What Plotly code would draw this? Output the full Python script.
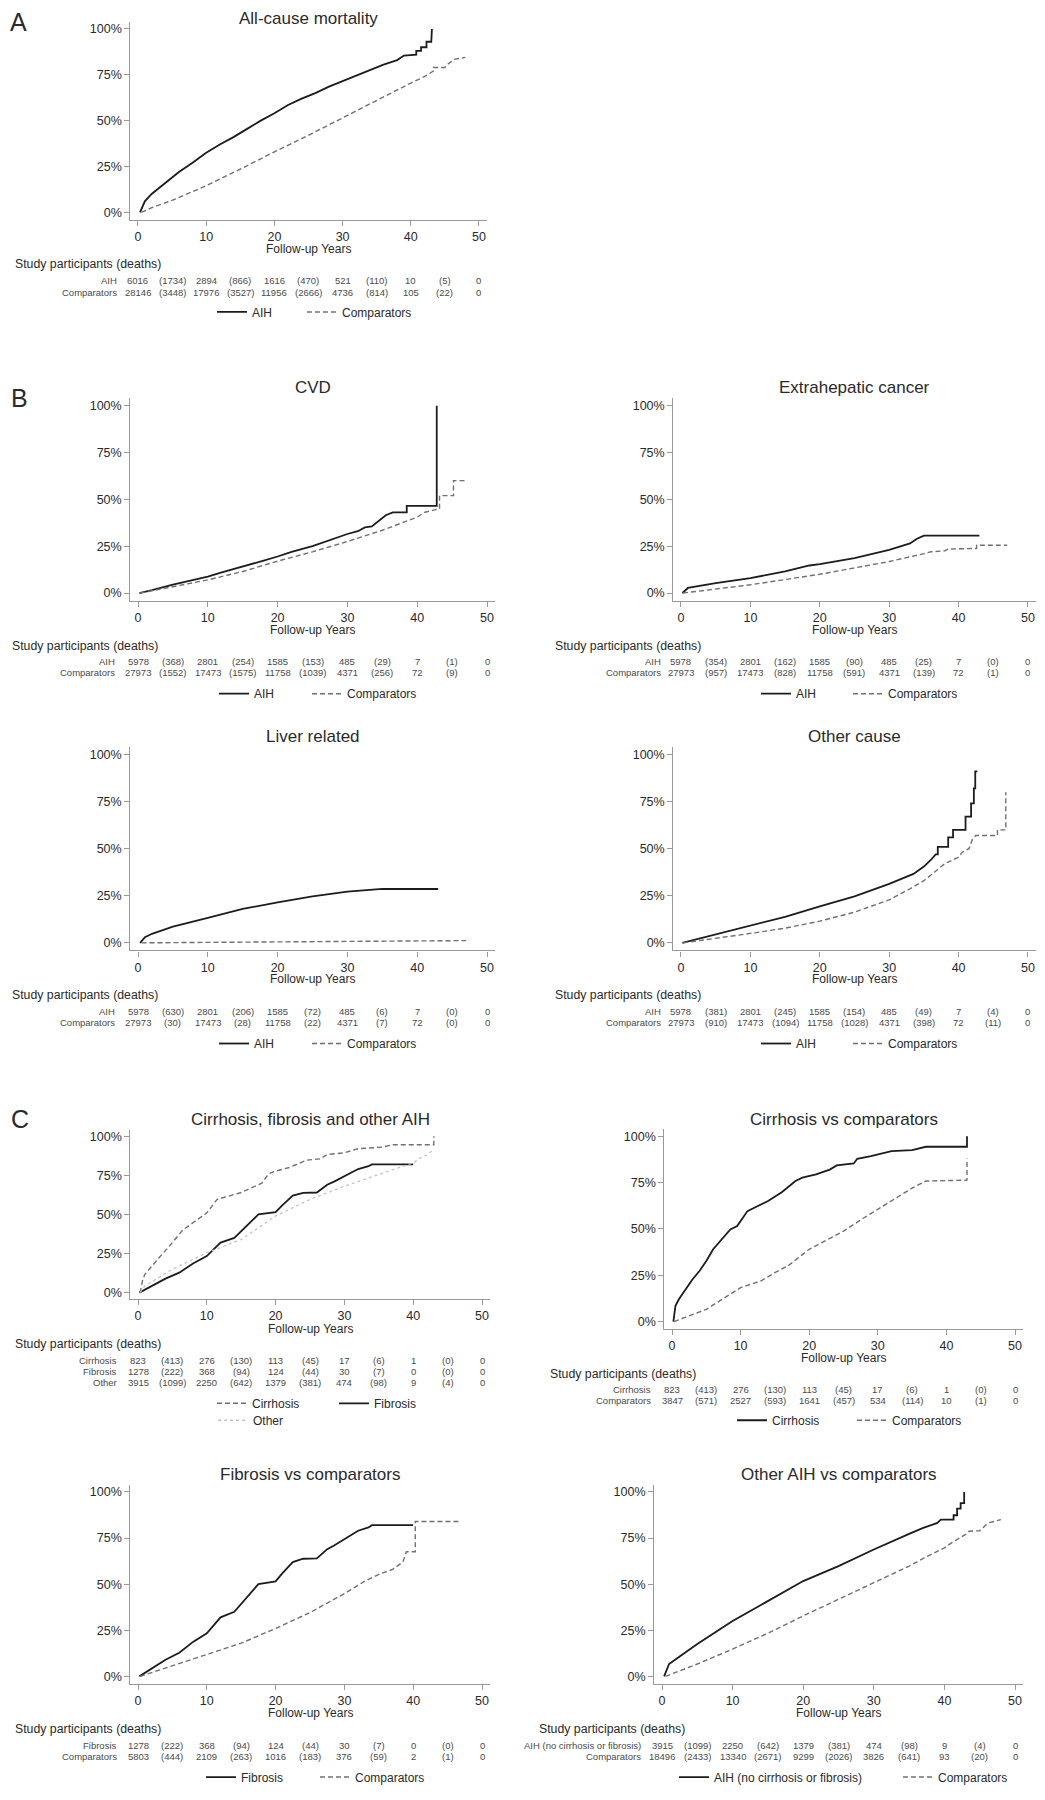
import plotly.graph_objects as go

# Page body has an 8px margin; the figure is sized to fit inside the window
PAGE_W, PAGE_H = 1045, 1800
OFF = 8
W, H = PAGE_W - 2 * OFF, PAGE_H - 2 * OFF
ANN_DY = 2  # annotation boxes sit slightly high; nudge down

# ---------------- DATA (cumulative mortality, %) ----------------
# A: All-cause mortality
A_aih_t = [0.3, 0.5, 1, 2, 3, 4, 5, 6, 8, 10, 12, 14, 16, 18, 20, 22, 24, 26, 28, 30, 32, 34, 36, 38, 39, 40.8, 40.8, 41.5, 41.5, 42.3, 42.3, 43.0, 43.0, 43.1]
A_aih_v = [0, 2, 6, 10, 13, 16.5, 19.5, 22, 27, 32.5, 37, 41, 45.5, 50, 54, 58.5, 62, 65, 68.5, 71.5, 74.5, 77.5, 80.5, 83, 85.5, 86, 88, 88, 90, 90, 93, 93, 97, 100]
A_cmp_t = [0.5, 2, 5, 10, 15, 20, 25, 30, 35, 37, 40, 42, 43.3, 43.3, 45, 45.5, 46.5, 48]
A_cmp_v = [0, 2.5, 6.5, 14.5, 23.5, 33, 42, 51.5, 61, 65, 70.5, 74, 77, 79, 79, 81, 83.5, 84.5]

# B: CVD
CVD_aih_t = [0.2, 2, 5, 8, 10, 12, 15, 18, 20, 22, 25, 28, 30, 31.5, 32.5, 33.5, 34.5, 35.5, 36.5, 38.5, 38.5, 42.8, 42.8]
CVD_aih_v = [0, 1.5, 4.5, 7, 8.8, 11, 14, 17.3, 19.5, 22, 25, 29, 31.5, 33, 35, 35.5, 38.5, 41.5, 43, 43, 46.5, 46.5, 100]
CVD_cmp_t = [0.3, 5, 10, 15, 20, 25, 30, 35, 38, 40, 41, 43.2, 43.2, 45.2, 45.2, 47]
CVD_cmp_v = [0, 3.5, 7, 11.5, 17, 22, 27.5, 33.5, 37.5, 40.5, 43, 45, 52, 52, 60, 60]

# B: Extrahepatic cancer
EXT_aih_t = [0.2, 1, 5, 10, 15, 18.5, 20, 25, 30, 33, 34, 35, 43]
EXT_aih_v = [0, 2.7, 5.3, 8, 11.5, 14.7, 15.4, 18.6, 23, 26.5, 29, 30.6, 30.6]
EXT_cmp_t = [0.3, 10, 20, 30, 35, 36, 38, 38.5, 42.6, 42.6, 47]
EXT_cmp_v = [0, 4.4, 10, 16.8, 21, 22, 22.5, 23.5, 23.8, 25.5, 25.5]

# B: Liver related
LIV_aih_t = [0.3, 1, 2, 5, 10, 15, 20, 25, 30, 35, 43]
LIV_aih_v = [0, 3, 4.8, 8.6, 13.2, 18, 21.5, 24.7, 27.2, 28.6, 28.6]
LIV_cmp_t = [0.5, 10, 20, 30, 40, 47]
LIV_cmp_v = [0, 0.3, 0.5, 0.8, 1.1, 1.2]

# B: Other cause
OTH_aih_t = [0.2, 5, 10, 15, 20, 25, 30, 33.5, 35, 36, 36.7, 37, 37, 38.5, 38.5, 39.2, 39.2, 41, 41, 41.8, 41.8, 42.2, 42.2, 42.4, 42.4, 42.7]
OTH_aih_v = [0, 4.5, 9, 13.8, 19.4, 24.7, 31.3, 36.6, 40.5, 44, 47, 47, 51, 51, 56, 56, 60, 60, 67, 67, 74, 74, 82, 82, 91, 91]
OTH_cmp_t = [0.3, 5, 10, 15, 20, 25, 30, 33, 35, 36.5, 38, 40, 40.5, 41.5, 42, 42.5, 45.6, 45.6, 46.8, 46.8]
OTH_cmp_v = [0, 2.3, 5, 7.8, 11.5, 16.3, 22.8, 28.7, 33, 37.5, 42, 45.5, 48, 50, 55, 57, 57, 60, 60, 80]

# C: Cirrhosis / fibrosis / other AIH
CIR_t = [0.3, 0.7, 1, 2, 3, 5, 6.5, 8, 10, 11.5, 15, 18, 19, 20, 22, 24.5, 26.5, 27.5, 30, 32, 35.5, 37, 43, 43]
CIR_v = [0, 8.5, 11.7, 17, 22, 32, 40, 44.7, 51, 59.6, 64, 70, 76, 77.7, 80, 84.7, 85.5, 88.3, 89.4, 92, 93, 94.5, 94.5, 100]
FIB_t = [0.2, 2, 4, 6, 8, 10, 12, 14, 16, 17.5, 20, 21, 22.5, 24, 26, 27.5, 28.5, 30, 31, 32, 33.5, 34, 40]
FIB_v = [0, 4.3, 9, 12.8, 18.7, 23.4, 32, 35, 43.6, 50, 51.5, 56, 62, 63.8, 64, 69, 71, 74.5, 77, 79, 80.8, 82, 82]
OAIH_C_t = [0.3, 1, 5, 10, 15, 20, 25, 30, 35, 40, 41, 42, 43]
OAIH_C_v = [0, 4.3, 15, 25.5, 34, 49, 59.6, 68, 75.5, 83, 86, 88, 91.5]

# C: Cirrhosis vs comparators
CIRV_t = [0.2, 0.5, 1, 2, 3, 4, 5, 6, 7, 8.5, 9.5, 11, 12, 14, 16, 18, 19, 21, 23, 24, 26.5, 27, 29, 32, 35, 37, 43, 43]
CIRV_v = [0, 8.4, 12, 17.4, 22.8, 27.3, 32.7, 39, 43.4, 49.7, 51.5, 59.6, 61.4, 65, 69.8, 75.8, 77.6, 79.4, 82, 84.2, 85.3, 87.8, 89.2, 91.9, 92.5, 94.3, 94.3, 100]
CIRC_t = [0.3, 5, 10, 13, 15, 17, 20, 25, 28, 30, 33, 35, 37, 43, 43]
CIRC_v = [0, 6.6, 18.3, 22, 26.4, 30.3, 39, 48.8, 56, 60.5, 67.7, 72, 75.8, 76.3, 88]

# C: Fibrosis vs comparators
FIBC_t = [0.3, 5, 10, 15, 20, 25, 30, 33, 35, 37, 38.5, 39, 40.3, 40.3, 47]
FIBC_v = [0, 5.8, 11.7, 18, 26, 34.6, 44.9, 51.7, 55.3, 58, 62, 67.6, 67.6, 84, 84]

# C: Other AIH vs comparators
OAV_t = [0.3, 1, 2, 5, 10, 15, 20, 25, 30, 35, 37, 39, 39.5, 41.3, 41.3, 41.8, 41.8, 42.3, 42.3, 42.8, 42.8]
OAV_v = [0, 6.7, 9.4, 17.5, 30, 41, 51.7, 59.8, 68.8, 77.3, 80.5, 83.2, 85, 85, 87.4, 87.4, 91, 91, 94, 94, 100]
OAC_t = [0.5, 2, 5, 10, 15, 20, 25, 30, 35, 37, 40, 41, 43, 43.5, 45, 46, 46.5, 48]
OAC_v = [0, 2.2, 6.7, 14.8, 23.4, 32.8, 41.8, 50.8, 59.8, 64, 69.7, 72.4, 77, 78.7, 79, 82.5, 83.5, 85]

# ---------------- Risk tables: numbers at risk (0,10,...,50) and deaths per interval ----------------
A_aih_n, A_aih_d = [6016, 2894, 1616, 521, 10, 0], [1734, 866, 470, 110, 5]
A_cmp_n, A_cmp_d = [28146, 17976, 11956, 4736, 105, 0], [3448, 3527, 2666, 814, 22]
B_aih_n = [5978, 2801, 1585, 485, 7, 0]
B_cmp_n = [27973, 17473, 11758, 4371, 72, 0]
CVD_aih_d, CVD_cmp_d = [368, 254, 153, 29, 1], [1552, 1575, 1039, 256, 9]
EXT_aih_d, EXT_cmp_d = [354, 162, 90, 25, 0], [957, 828, 591, 139, 1]
LIV_aih_d, LIV_cmp_d = [630, 206, 72, 6, 0], [30, 28, 22, 7, 0]
OTH_aih_d, OTH_cmp_d = [381, 245, 154, 49, 4], [910, 1094, 1028, 398, 11]
CIR_n, CIR_d = [823, 276, 113, 17, 1, 0], [413, 130, 45, 6, 0]
FIB_n, FIB_d = [1278, 368, 124, 30, 0, 0], [222, 94, 44, 7, 0]
OTHR_n, OTHR_d = [3915, 2250, 1379, 474, 9, 0], [1099, 642, 381, 98, 4]
CIRC_n, CIRC_d = [3847, 2527, 1641, 534, 10, 0], [571, 593, 457, 114, 1]
FIBC_n, FIBC_d = [5803, 2109, 1016, 376, 2, 0], [444, 263, 183, 59, 1]
OAC_n, OAC_d = [18496, 13340, 9299, 3826, 93, 0], [2433, 2671, 2026, 641, 20]

x_ticks = [0, 10, 20, 30, 40, 50]
y_ticks = [0, 25, 50, 75, 100]
y_ticktext = ["0%", "25%", "50%", "75%", "100%"]

# ---------------- STYLE ----------------
FONT = "Arial, Liberation Sans, sans-serif"
TXT = "#2a2a2a"
AX = "#999999"
SOLID = dict(color="#1c1c1c", width=1.8)
DASH = dict(color="#707070", width=1.4, dash="5px,3px")
DOT = dict(color="#c4c4c4", width=1.3, dash="dot")
XR = [-1.1, 51.1]
YR = [-4, 104]

# each series carries the (text-start x, y) of its legend entry
panels = [
    dict(title="All-cause mortality", x0=138, x50=479, y0=213, y100=29, ty=17, fy=248, sx=13, sy=263,
         lr=119, rows=[("AIH", A_aih_n, A_aih_d, 279), ("Comparators", A_cmp_n, A_cmp_d, 291)],
         series=[("AIH", A_aih_t, A_aih_v, SOLID, (253, 313)), ("Comparators", A_cmp_t, A_cmp_v, DASH, (343, 313))]),
    dict(title="CVD", x0=138, x50=487, y0=595, y100=407, ty=387, fy=630, sx=10, sy=646,
         lr=117, rows=[("AIH", B_aih_n, CVD_aih_d, 662), ("Comparators", B_cmp_n, CVD_cmp_d, 673)],
         series=[("AIH", CVD_aih_t, CVD_aih_v, SOLID, (255, 696)), ("Comparators", CVD_cmp_t, CVD_cmp_v, DASH, (348, 696))]),
    dict(title="Extrahepatic cancer", x0=681, x50=1028, y0=595, y100=407, ty=387, fy=630, sx=553, sy=646,
         lr=663, rows=[("AIH", B_aih_n, EXT_aih_d, 662), ("Comparators", B_cmp_n, EXT_cmp_d, 673)],
         series=[("AIH", EXT_aih_t, EXT_aih_v, SOLID, (797, 696)), ("Comparators", EXT_cmp_t, EXT_cmp_v, DASH, (889, 696))]),
    dict(title="Liver related", x0=138, x50=487, y0=946, y100=757, ty=737, fy=980, sx=10, sy=996,
         lr=117, rows=[("AIH", B_aih_n, LIV_aih_d, 1013), ("Comparators", B_cmp_n, LIV_cmp_d, 1024)],
         series=[("AIH", LIV_aih_t, LIV_aih_v, SOLID, (255, 1047)), ("Comparators", LIV_cmp_t, LIV_cmp_v, DASH, (348, 1047))]),
    dict(title="Other cause", x0=681, x50=1028, y0=946, y100=757, ty=737, fy=980, sx=553, sy=996,
         lr=663, rows=[("AIH", B_aih_n, OTH_aih_d, 1013), ("Comparators", B_cmp_n, OTH_cmp_d, 1024)],
         series=[("AIH", OTH_aih_t, OTH_aih_v, SOLID, (797, 1047)), ("Comparators", OTH_cmp_t, OTH_cmp_v, DASH, (889, 1047))]),
    dict(title="Cirrhosis, fibrosis and other AIH", x0=138, x50=482, y0=1297, y100=1140, ty=1121, fy=1331, sx=13, sy=1347,
         lr=119, rows=[("Cirrhosis", CIR_n, CIR_d, 1363), ("Fibrosis", FIB_n, FIB_d, 1374), ("Other", OTHR_n, OTHR_d, 1385)],
         series=[("Cirrhosis", CIR_t, CIR_v, DASH, (253, 1408)), ("Fibrosis", FIB_t, FIB_v, SOLID, (375, 1408)),
                 ("Other", OAIH_C_t, OAIH_C_v, DOT, (254, 1425))]),
    dict(title="Cirrhosis vs comparators", x0=672, x50=1015, y0=1326, y100=1140, ty=1121, fy=1361, sx=548, sy=1377,
         lr=653, rows=[("Cirrhosis", CIR_n, CIR_d, 1392), ("Comparators", CIRC_n, CIRC_d, 1403)],
         series=[("Cirrhosis", CIRV_t, CIRV_v, SOLID, (773, 1425)), ("Comparators", CIRC_t, CIRC_v, DASH, (893, 1425))]),
    dict(title="Fibrosis vs comparators", x0=138, x50=482, y0=1682, y100=1497, ty=1477, fy=1717, sx=13, sy=1733,
         lr=119, rows=[("Fibrosis", FIB_n, FIB_d, 1749), ("Comparators", FIBC_n, FIBC_d, 1760)],
         series=[("Fibrosis", FIB_t, FIB_v, SOLID, (242, 1783)), ("Comparators", FIBC_t, FIBC_v, DASH, (356, 1783))]),
    dict(title="Other AIH vs comparators", x0=662, x50=1015, y0=1682, y100=1497, ty=1477, fy=1717, sx=537, sy=1733,
         lr=643, rows=[("AIH (no cirrhosis or fibrosis)", OTHR_n, OTHR_d, 1749), ("Comparators", OAC_n, OAC_d, 1760)],
         series=[("AIH (no cirrhosis or fibrosis)", OAV_t, OAV_v, SOLID, (715, 1783)),
                 ("Comparators", OAC_t, OAC_v, DASH, (939, 1783))]),
]


def fx(px):
    """screen x pixel -> paper x"""
    return (px - OFF) / W


def fy(py):
    """screen y pixel -> paper y"""
    return 1 - (py - OFF) / H


def fya(py):
    """screen y pixel -> paper y for annotations"""
    return fy(py + ANN_DY)


fig = go.Figure()
layout = dict(width=W, height=H, margin=dict(l=0, r=0, t=0, b=0), paper_bgcolor="white",
              plot_bgcolor="white", font=dict(family=FONT, color=TXT), showlegend=True)
annotations = []
leg_idx = 0
RT = dict(size=9.5, color="#4a4a4a")

for i, p in enumerate(panels, start=1):
    sfx = "" if i == 1 else str(i)
    xs = (p["x50"] - p["x0"]) / 50.0
    ys = (p["y0"] - p["y100"]) / 100.0
    xdom = [fx(p["x0"] + XR[0] * xs), fx(p["x0"] + XR[1] * xs)]
    ydom = [fy(p["y0"] - YR[0] * ys), fy(p["y0"] - YR[1] * ys)]
    common = dict(showline=True, linecolor=AX, linewidth=1.3, ticks="outside", ticklen=5, tickwidth=1,
                  tickcolor=AX, showgrid=False, zeroline=False, tickfont=dict(size=12.5, color=TXT, family=FONT))
    layout["xaxis" + sfx] = dict(domain=xdom, range=XR, anchor="y" + sfx, tickmode="array",
                                 tickvals=x_ticks, ticktext=[str(v) for v in x_ticks], **common)
    layout["yaxis" + sfx] = dict(domain=ydom, range=YR, anchor="x" + sfx, tickmode="array",
                                 tickvals=y_ticks, ticktext=y_ticktext, **common)

    for (name, t, v, style, (tx, ly)) in p["series"]:
        leg_idx += 1
        lname = "legend" if leg_idx == 1 else "legend%d" % leg_idx
        layout[lname] = dict(x=fx(tx - 41), y=fy(ly), xanchor="left", yanchor="middle", orientation="h",
                             bgcolor="rgba(0,0,0,0)", font=dict(size=12, color=TXT, family=FONT),
                             itemwidth=30)
        fig.add_trace(go.Scatter(x=t, y=v, mode="lines", name=name, line=style,
                                 xaxis="x" + sfx, yaxis="y" + sfx, legend=lname,
                                 showlegend=True, hoverinfo="skip"))

    annotations.append(dict(text=p["title"], xref="x" + sfx, yref="paper", x=25, y=fya(p["ty"]),
                            showarrow=False, xanchor="center", yanchor="middle", font=dict(size=17, color=TXT)))
    annotations.append(dict(text="Follow-up Years", xref="x" + sfx, yref="paper", x=25, y=fya(p["fy"]),
                            showarrow=False, xanchor="center", yanchor="middle", font=dict(size=12, color=TXT)))
    annotations.append(dict(text="Study participants (deaths)", xref="paper", yref="paper", x=fx(p["sx"]),
                            y=fya(p["sy"]), showarrow=False, xanchor="left", yanchor="middle",
                            font=dict(size=12.3, color=TXT)))
    for (label, ns, ds, ry) in p["rows"]:
        annotations.append(dict(text=label, xref="paper", yref="paper", x=fx(p["lr"]), y=fya(ry),
                                showarrow=False, xanchor="right", yanchor="middle", font=RT))
        for j, n in enumerate(ns):
            annotations.append(dict(text=str(n), xref="x" + sfx, yref="paper", x=x_ticks[j], y=fya(ry),
                                    showarrow=False, xanchor="center", yanchor="middle", font=RT))
        for j, d in enumerate(ds):
            annotations.append(dict(text="(%d)" % d, xref="x" + sfx, yref="paper", x=x_ticks[j] + 5,
                                    y=fya(ry), showarrow=False, xanchor="center", yanchor="middle", font=RT))

for letter, lx, ly in [("A", 18, 20), ("B", 19, 397), ("C", 20, 1121)]:
    annotations.append(dict(text=letter, xref="paper", yref="paper", x=fx(lx), y=fya(ly), showarrow=False,
                            xanchor="center", yanchor="middle", font=dict(size=25, color=TXT)))

layout["annotations"] = annotations
fig.update_layout(**layout)
fig.write_html("out.html")
